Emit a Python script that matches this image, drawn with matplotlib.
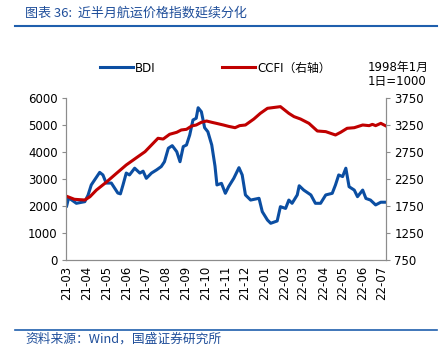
import matplotlib
matplotlib.use("Agg")
import matplotlib.pyplot as plt
import matplotlib.dates as mdates
import pandas as pd

plt.rcParams['font.family'] = ['DejaVu Sans', 'Noto Sans CJK SC']

# BDI (left axis)
bdi_dates = ['2021-03-01', '2021-03-04', '2021-03-09', '2021-03-16', '2021-03-29', '2021-04-03',
             '2021-04-08', '2021-04-13', '2021-04-21', '2021-04-26', '2021-05-01', '2021-05-09',
             '2021-05-19', '2021-05-23', '2021-05-27', '2021-06-01', '2021-06-06', '2021-06-14',
             '2021-06-22', '2021-06-27', '2021-07-02', '2021-07-10', '2021-07-18', '2021-07-25',
             '2021-07-30', '2021-08-05', '2021-08-11', '2021-08-18', '2021-08-23', '2021-08-28',
             '2021-09-02', '2021-09-07', '2021-09-12', '2021-09-17', '2021-09-20', '2021-09-25',
             '2021-09-30', '2021-10-05', '2021-10-11', '2021-10-16', '2021-10-19', '2021-10-26',
             '2021-11-01', '2021-11-06', '2021-11-14', '2021-11-22', '2021-11-27', '2021-12-02',
             '2021-12-10', '2021-12-23', '2021-12-28', '2022-01-05', '2022-01-10', '2022-01-20',
             '2022-01-25', '2022-02-02', '2022-02-07', '2022-02-12', '2022-02-20', '2022-02-23',
             '2022-03-02', '2022-03-13', '2022-03-20', '2022-03-28', '2022-04-05', '2022-04-15',
             '2022-04-20', '2022-04-25', '2022-05-01', '2022-05-06', '2022-05-11', '2022-05-19',
             '2022-05-24', '2022-06-01', '2022-06-06', '2022-06-13', '2022-06-21', '2022-06-29',
             '2022-07-07']
bdi_values = [2000, 2300, 2220, 2100, 2160, 2400,
              2780, 2960, 3245, 3150, 2850, 2850,
              2480, 2450, 2780, 3220, 3150, 3400,
              3220, 3290, 3025, 3220, 3340, 3460,
              3640, 4140, 4235, 4010, 3640, 4200,
              4260, 4630, 5185, 5250, 5640, 5490,
              4900, 4750, 4260, 3480, 2780, 2840,
              2470, 2715, 3025, 3420, 3150, 2410,
              2220, 2285, 1790, 1480, 1360, 1445,
              1975, 1910, 2220, 2100, 2410, 2750,
              2590, 2410, 2100, 2100, 2410, 2470,
              2780, 3150, 3090, 3400, 2715, 2590,
              2345, 2590, 2280, 2220, 2040, 2140,
              2140]

# CCFI (right axis)
ccfi_dates = ['2021-03-01', '2021-03-13', '2021-03-29', '2021-04-06', '2021-04-16', '2021-05-01',
              '2021-05-17', '2021-06-01', '2021-06-19', '2021-06-30', '2021-07-10', '2021-07-20',
              '2021-07-28', '2021-08-07', '2021-08-18', '2021-08-25', '2021-09-02', '2021-09-10',
              '2021-09-17', '2021-09-25', '2021-10-03', '2021-10-11', '2021-10-18', '2021-10-29',
              '2021-11-06', '2021-11-16', '2021-11-23', '2021-12-02', '2021-12-15', '2021-12-25',
              '2022-01-05', '2022-01-25', '2022-02-07', '2022-02-15', '2022-02-25', '2022-03-10',
              '2022-03-23', '2022-04-05', '2022-04-20', '2022-04-28', '2022-05-08', '2022-05-19',
              '2022-06-01', '2022-06-11', '2022-06-16', '2022-06-21', '2022-06-29', '2022-07-07']
ccfi_values = [1930, 1874, 1861, 1922, 2046, 2189,
               2356, 2510, 2663, 2756, 2880, 3004,
               2990, 3078, 3115, 3158, 3170, 3232,
               3250, 3300, 3324, 3300, 3281, 3250,
               3225, 3200, 3238, 3250, 3361, 3466,
               3559, 3590, 3466, 3405, 3361, 3281,
               3139, 3127, 3065, 3115, 3189, 3200,
               3250, 3238, 3262, 3238, 3281, 3232]

month_ticks = pd.date_range('2021-03-01', '2022-07-01', freq='MS')

navy = '#1f4e9a'
grey = '#8c8c8c'
cjk = ['Noto Sans CJK SC', 'DejaVu Sans']

fig = plt.figure(figsize=(4.48, 3.55), dpi=100)
ax = fig.add_axes([66 / 448, 1 - 260 / 355, 320 / 448, 162 / 355])
ax2 = ax.twinx()

l1, = ax.plot(pd.to_datetime(bdi_dates), bdi_values, color='#0b4ea2', lw=2.2)
l2, = ax2.plot(pd.to_datetime(ccfi_dates), ccfi_values, color='#c00000', lw=2.2)

ax.set_ylim(0, 6000)
ax.set_yticks(range(0, 6001, 1000))
ax2.set_ylim(750, 3750)
ax2.set_yticks(range(750, 3751, 500))
ax.set_xlim(pd.Timestamp('2021-02-28'), pd.Timestamp('2022-07-07'))
ax.set_xticks(month_ticks)
ax.xaxis.set_major_formatter(mdates.DateFormatter('%y-%m'))

for a in (ax, ax2):
    a.spines['top'].set_visible(False)
    for s in ('left', 'right', 'bottom'):
        a.spines[s].set_color(grey)
    a.tick_params(axis='y', length=3, color=grey, labelsize=8.5, pad=3)
ax.tick_params(axis='x', length=0, labelsize=8.5, rotation=90, pad=4)

fig.text(25 / 448, 1 - 13 / 355, '图表 36:  近半月航运价格指数延续分化', color=navy,
         fontsize=9.4, style='italic', va='center', family=cjk)
fig.add_artist(plt.Line2D([15 / 448, 437 / 448], [1 - 26 / 355] * 2, color='#1f5fad', lw=1.5))
fig.add_artist(plt.Line2D([15 / 448, 437 / 448], [1 - 330 / 355] * 2, color='#1f5fad', lw=1.2))
fig.text(25 / 448, 1 - 339 / 355, '资料来源：Wind，国盛证券研究所', color=navy,
         fontsize=9.2, style='italic', va='center', family=cjk)

fig.legend([l1, l2], ['BDI', 'CCFI（右轴）'], loc='center left', ncol=2, frameon=False,
           bbox_to_anchor=(89 / 448, 1 - 68 / 355), handlelength=2.8,
           handletextpad=0.2, columnspacing=5.6,
           prop={'family': ['DejaVu Sans', 'Noto Sans CJK SC'], 'size': 8.5})
fig.text(368 / 448, 1 - 67 / 355, '1998年1月', fontsize=8.5, va='center',
         family=['DejaVu Sans', 'Noto Sans CJK SC'])
fig.text(368 / 448, 1 - 81 / 355, '1日=1000', fontsize=8.5, va='center',
         family=['DejaVu Sans', 'Noto Sans CJK SC'])

fig.savefig('out.png', dpi=100)
